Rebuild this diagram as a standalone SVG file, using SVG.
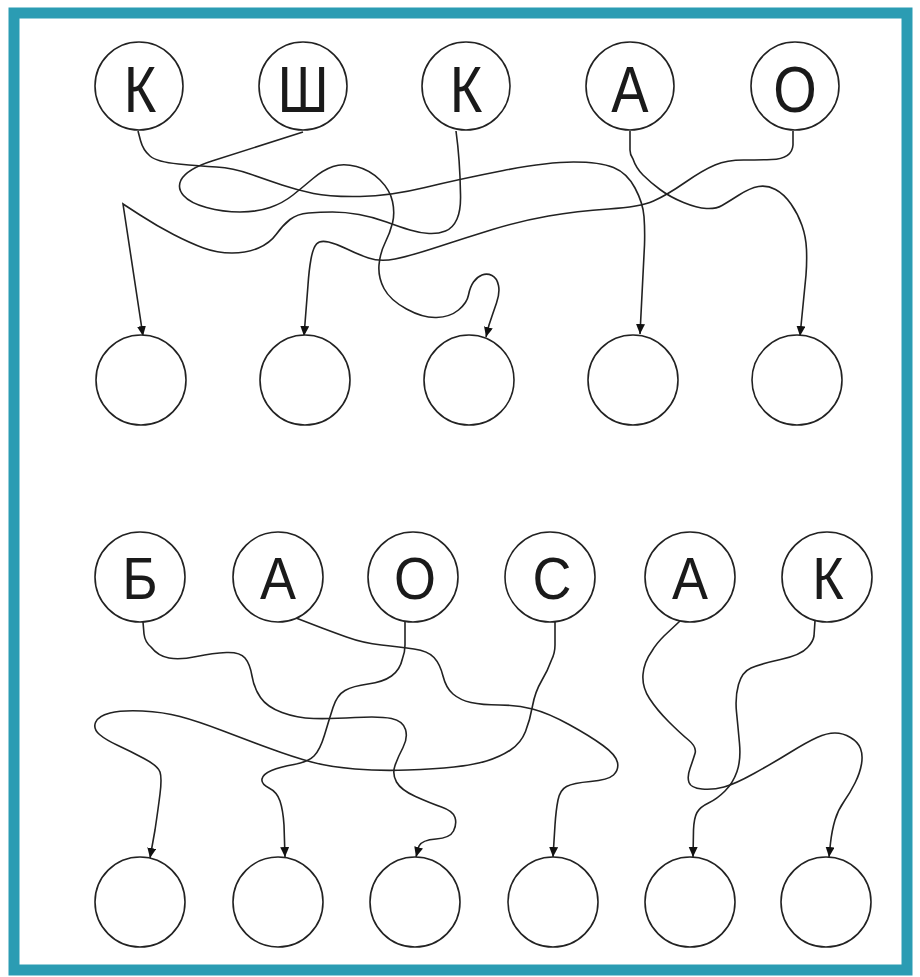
<svg xmlns="http://www.w3.org/2000/svg" width="920" height="977" viewBox="0 0 920 977">
<style>
.node circle{fill:#fff;stroke:#222;stroke-width:1.6}
.node text{font-family:"Liberation Sans",Arial,sans-serif;fill:#1a1a1a;text-anchor:middle}
.top text{font-size:65px}
.bot text{font-size:60px}
#connectors path{fill:none;stroke:#222;stroke-width:1.6;marker-end:url(#arr)}
</style>
<defs>
<marker id="arr" markerUnits="userSpaceOnUse" markerWidth="11" markerHeight="10" refX="10" refY="4.5" orient="auto">
<path d="M0,0 L10,4.5 L0,9 z" fill="#111"/>
</marker>
</defs>
<rect x="0" y="0" width="920" height="977" fill="#fff"/>
<rect x="14" y="13" width="893" height="957" fill="#fff" stroke="#2b9cb3" stroke-width="11"/>
<g id="connectors">
<path d="M138,131 L140.5,140.5 Q143,150 150,156 Q157,162 178.5,164 Q200,166 216.5,167 Q233,168 250,174 Q267,180 282,185 Q297,190 313.5,193.5 Q330,197 360,196.5 Q390,196 425,187.5 Q460,179 503.5,170.5 Q547,162 573.5,162 Q600,162 613.5,167.5 Q627,173 635,188 Q643,203 644,216.5 Q645,230 644.5,245 L640,334"/>
<path d="M303,132 L212,161 Q187,169 181,180 Q177,188 183.5,195.5 Q190,203 206.5,207.5 Q223,212 240,212 Q257,212 270,207.5 Q283,203 293,195 Q303,187 313,178.5 Q323,170 333,166.5 Q343,163 356.5,166.5 Q370,170 380,180 Q390,190 392.5,201.5 Q395,213 392.5,223 Q390,233 385,243 Q380,253 379,265 Q378,277 384,288.5 Q390,300 406.5,309 Q423,318 436.5,317.5 Q450,317 458.5,310 Q467,303 468.5,295 Q470,287 473.5,282 Q477,277 482,275 Q487,273 492,275.5 Q497,278 498.5,285.5 Q500,293 496.5,303 Q493,313 489,325 L486,337"/>
<path d="M456,131 Q460,160 460.5,194 Q461,210 457,219 Q453,228 445.5,231 Q438,234 429,233.5 Q420,233 410,230 Q400,227 386.5,222 Q373,217 359,214.5 Q345,212 332.5,212 Q320,212 308.5,213 Q297,214 290,219.5 Q283,225 276.5,234 Q270,243 258.5,248 Q247,253 232,253 Q217,253 203.5,248 Q190,243 173.5,234.5 Q157,226 140,215 L123,204 L143,336"/>
<path d="M793,131 L793,145 Q792,159 771.5,159.5 Q760,160 743.5,160 Q727,160 715,165 Q703,170 685,182.5 Q667,195 653.5,201 Q640,207 608.5,209 Q577,211 548.5,216 Q520,221 492.5,229.5 Q465,238 437.5,247 Q410,256 395,259 Q380,262 368.5,258 Q357,254 347,249 Q337,244 328.5,242 Q320,240 316.5,244 Q313,248 311,259 Q309,270 308,285 L304,336"/>
<path d="M630,131 L630,150 Q630,155 633,159 Q636,168 643,175 Q650,182 660,189.5 Q670,197 683.5,202.5 Q697,208 706.5,208.5 Q716,209 722,205.5 Q728,202 739,195 Q750,188 758.5,186.5 Q767,185 775.5,189.5 Q784,194 791,204 Q798,214 802,225.5 Q806,237 806.5,249.5 Q807,262 806,275 L800,336"/>
<path d="M143,622 L144,634 Q145,642 151,647 Q158,656 169,658 Q180,660 196.5,656.5 Q213,653 226.5,652.5 Q240,652 245,658 Q250,664 252,676 Q254,688 260.5,697.5 Q267,707 282,712.5 Q297,718 313.5,718.5 Q330,719 355,717.5 Q380,716 391.5,718.5 Q403,721 405.5,729.5 Q408,738 403,747.5 Q398,757 395,765.5 Q392,774 396.5,782 Q401,790 415.5,796.5 Q430,803 441.5,807 Q453,811 455,817.5 Q457,824 453.5,831 Q450,838 436,839 Q422,840 419,846 L416,857"/>
<path d="M296,618 L322,628 Q338,634 346.5,637 Q363,643 381.5,645 Q400,647 414,649 Q428,651 434,657.5 Q440,664 443,676 Q446,688 453,694 Q460,700 471,702.5 Q482,705 499.5,705 Q517,705 532.5,709 Q548,713 569,724.5 Q590,736 603,745.5 Q616,755 617.5,762.5 Q619,770 613.5,775 Q608,780 590.5,781.5 Q573,783 566.5,786.5 Q560,790 558,800 Q556,810 555,825 L553,857"/>
<path d="M405,621 L405,645 Q405,652 402.5,658.5 Q400,670 391.5,676 Q383,682 368,684 Q353,686 345,690.5 Q337,695 333,707.5 Q329,720 324.5,735 Q320,750 314,756 Q308,762 294,764.5 Q280,767 271.5,770.5 Q263,774 262,779 Q261,784 269,788 Q277,792 280,801 Q283,810 284,825 L285,857"/>
<path d="M555,621 L555,645 Q555,653 551.5,660 Q548,670 541.5,681 Q535,692 532.5,706 Q530,720 525.5,731.5 Q521,743 510.5,750 Q500,757 486.5,761 Q473,765 454,767 Q435,769 407.5,770 Q380,771 355,769 Q330,767 311.5,762 Q293,757 270,748.5 Q247,740 222,730.5 Q197,721 180,716.5 Q163,712 142.5,711 Q122,710 110,713 Q98,716 95.5,722.5 Q93,729 99.5,734.5 Q106,740 118,745.5 Q130,751 144,758.5 Q158,766 160,772 Q162,778 160,794 Q158,810 155,830 L150,858"/>
<path d="M680,621 L664,636 Q656,644 652,651 Q644,662 643,674.5 Q642,687 649.5,698.5 Q657,710 668.5,721.5 Q680,733 688.5,740 Q697,747 695,753.5 Q693,760 690,768.5 Q687,777 689,782.5 Q691,788 702,789 Q713,790 724,787 Q735,784 754,773.5 Q773,763 790,752.5 Q807,742 817,737.5 Q827,733 835,733 Q843,733 850.5,737.5 Q858,742 860.5,748.5 Q863,755 861.5,764 Q860,773 855,783 Q850,793 844,801.5 Q838,810 835,820 Q832,830 830.5,843 L829,857"/>
<path d="M815,621 L814,636 Q813,642 807.5,647.5 Q801,655 780.5,659.5 Q760,664 751,668 Q742,672 738.5,684.5 Q735,697 736.5,712 Q738,727 739.5,743.5 Q741,760 737,771.5 Q733,783 725,791 Q717,799 708.5,803 Q700,807 697,812.5 Q694,818 693.5,830 L693,857"/>
</g>
<g class="top">
<g id="t1" class="node"><circle cx="139" cy="86" r="44"/><text transform="translate(140,112) scale(0.86,1)">К</text></g>
<g id="t2" class="node"><circle cx="303" cy="86" r="44"/><text transform="translate(303,112) scale(0.86,1)">Ш</text></g>
<g id="t3" class="node"><circle cx="466" cy="86" r="44"/><text transform="translate(466,112) scale(0.86,1)">К</text></g>
<g id="t4" class="node"><circle cx="630" cy="86" r="44"/><text transform="translate(630,112) scale(0.86,1)">А</text></g>
<g id="t5" class="node"><circle cx="795" cy="86" r="44"/><text transform="translate(795,112) scale(0.86,1)">О</text></g>
</g>
<g id="a1" class="node"><circle cx="141" cy="380" r="45"/></g>
<g id="a2" class="node"><circle cx="305" cy="380" r="45"/></g>
<g id="a3" class="node"><circle cx="469" cy="380" r="45"/></g>
<g id="a4" class="node"><circle cx="633" cy="380" r="45"/></g>
<g id="a5" class="node"><circle cx="797" cy="380" r="45"/></g>
<g class="bot">
<g id="b1" class="node"><circle cx="140" cy="577" r="45"/><text transform="translate(140,599) scale(0.9,1)">Б</text></g>
<g id="b2" class="node"><circle cx="278" cy="577" r="45"/><text transform="translate(278,599) scale(0.9,1)">А</text></g>
<g id="b3" class="node"><circle cx="413" cy="577" r="45"/><text transform="translate(415,599) scale(0.9,1)">О</text></g>
<g id="b4" class="node"><circle cx="550" cy="577" r="45"/><text transform="translate(552,599) scale(0.9,1)">С</text></g>
<g id="b5" class="node"><circle cx="690" cy="577" r="45"/><text transform="translate(690,599) scale(0.9,1)">А</text></g>
<g id="b6" class="node"><circle cx="827" cy="577" r="45"/><text transform="translate(828,599) scale(0.9,1)">К</text></g>
</g>
<g id="c1" class="node"><circle cx="140" cy="902" r="45"/></g>
<g id="c2" class="node"><circle cx="278" cy="902" r="45"/></g>
<g id="c3" class="node"><circle cx="415" cy="902" r="45"/></g>
<g id="c4" class="node"><circle cx="553" cy="902" r="45"/></g>
<g id="c5" class="node"><circle cx="690" cy="902" r="45"/></g>
<g id="c6" class="node"><circle cx="826" cy="902" r="45"/></g>
</svg>
